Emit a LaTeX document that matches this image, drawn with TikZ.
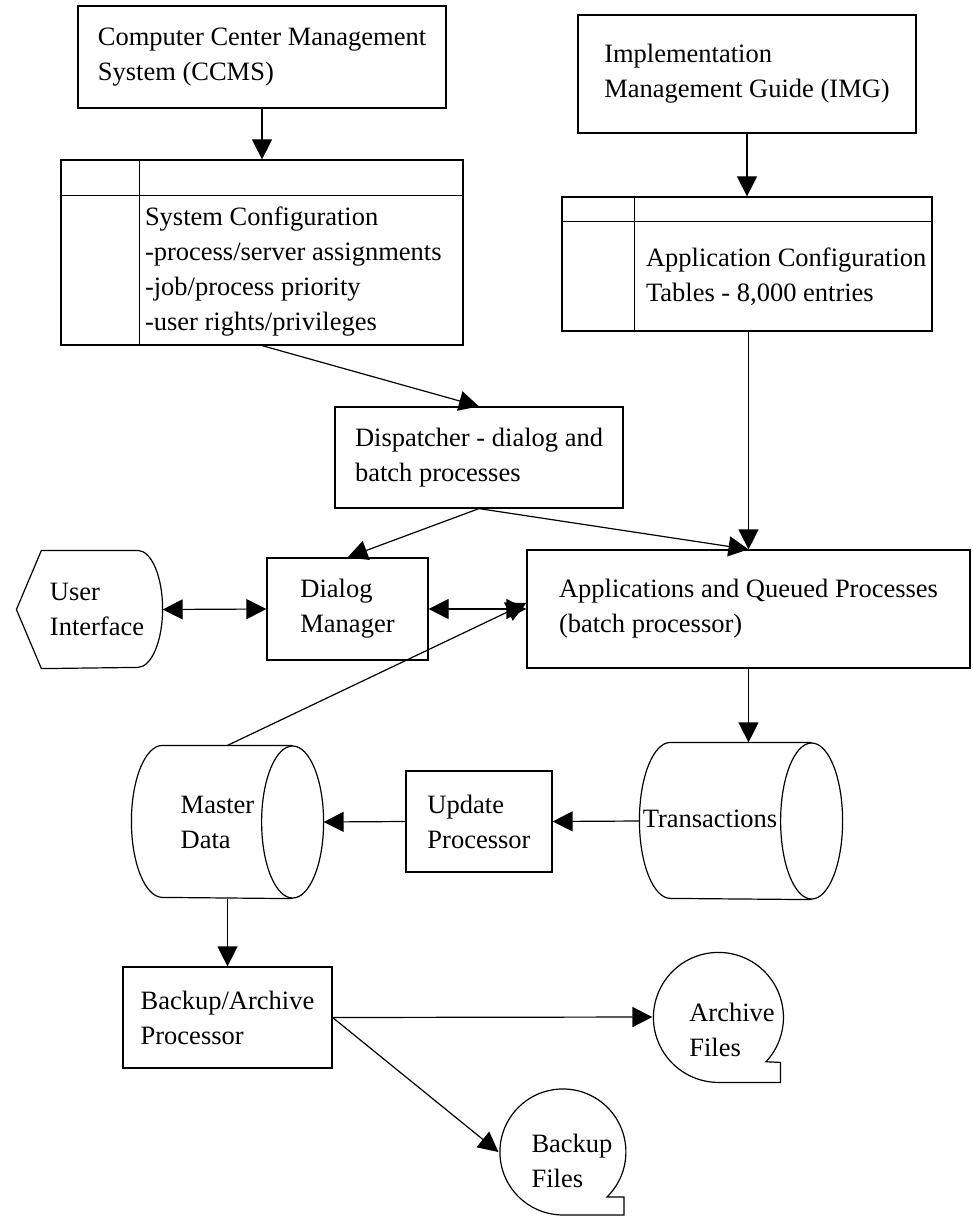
\documentclass[tikz,border=0pt]{standalone}
\usepackage{fontspec}
\setmainfont{Liberation Serif}
\usetikzlibrary{shapes.geometric,arrows.meta,positioning}
\tikzstyle{block} = [draw, rectangle, align=left, inner sep=0pt]
\tikzstyle{tablebox} = [draw, rectangle, inner sep=0pt]
\tikzstyle{store} = [rectangle, inner sep=0pt]
\tikzstyle{tapeshape} = [circle, inner sep=0pt]
\tikzstyle{celltext} = [align=left, anchor=west, inner sep=0pt]
\tikzstyle{flowline} = [-{Triangle[length=10pt,width=10pt]}]
\tikzstyle{dualline} = [{Triangle[length=10pt,width=10pt]}-{Triangle[length=10pt,width=10pt]}]
% outline of a lying drum: node name, x radius, y radius
\newcommand{\drawdrum}[3]{%
    \draw ([xshift=-#2]#1.north east) -- ([xshift=#2]#1.north west)
        arc [start angle=90, end angle=270, x radius=#2, y radius=#3]
        -- ([xshift=-#2]#1.south east);
    \draw ([xshift=-#2]#1.east) ellipse [x radius=#2, y radius=#3];}

\begin{document}
\begin{tikzpicture}[x=0.5pt, y=0.5pt, line width=0.6pt,
    font=\fontsize{13.25pt}{17.5pt}\selectfont]
    \useasboundingbox (0,0) rectangle (973,-1219);
    % % % % % % % % % % % % % % % % % % % % % % %
    % Configuration sources
    % % % % % % % % % % % % % % % % % % % % % % %
    % CCMS
    \node [block, minimum width=184pt, minimum height=51pt] (ccms) at (262,-57)
        {Computer Center Management\\System (CCMS)};
    % System configuration table
    \node [tablebox, below of=ccms, node distance=97.75pt,
        minimum width=201pt, minimum height=92.5pt] (sysconf) {};
    \draw ([yshift=-18pt]sysconf.north west) -- ([yshift=-18pt]sysconf.north east);
    \draw ([xshift=39.5pt]sysconf.north west) -- ([xshift=39.5pt]sysconf.south west);
    \node [celltext] (systext) at ([xshift=42pt, yshift=37.25pt]sysconf.south west)
        {System Configuration\\-process/server assignments\\-job/process priority\\-user rights/privileges};

    % IMG
    \node [block, minimum width=169pt, minimum height=59pt] (img) at (747,-74)
        {Implementation\\Management Guide (IMG)};
    % Application configuration table
    \node [tablebox, below of=img, node distance=95pt,
        minimum width=185pt, minimum height=67pt] (appconf) {};
    \draw ([yshift=-12.5pt]appconf.north west) -- ([yshift=-12.5pt]appconf.north east);
    \draw ([xshift=36.5pt]appconf.north west) -- ([xshift=36.5pt]appconf.south west);
    \node [celltext] (apptext) at ([xshift=42pt, yshift=27.25pt]appconf.south west)
        {Application Configuration\\Tables - 8,000 entries};

    % % % % % % % % % % % % % % % % % % % % % % %
    % Processing
    % % % % % % % % % % % % % % % % % % % % % % %
    % Dispatcher
    \node [block, minimum width=144pt, minimum height=50.5pt] (disp) at (479,-457.5)
        {Dispatcher - dialog and\\batch processes};
    % Dialog manager
    \node [block, minimum width=80.5pt, minimum height=51pt] (dialog) at (347.5,-609)
        {Dialog\\Manager};
    % User interface (display shape)
    \node [align=left, minimum width=65pt, minimum height=58.5pt, inner sep=0pt] (ui) at (97,-609.5)
        {User\\Interface};
    \draw ([xshift=-7.5pt]ui.west) -- ([xshift=5pt]ui.north west)
        -- ([xshift=-12.5pt]ui.north east)
        arc [start angle=90, end angle=-90, x radius=12.5pt, y radius=29.25pt]
        -- ([xshift=5pt]ui.south west) -- cycle;
    % Applications
    \node [block, right of=dialog, node distance=200.5pt,
        minimum width=221.5pt, minimum height=59pt] (app)
        {Applications and Queued Processes\\(batch processor)};

    % % % % % % % % % % % % % % % % % % % % % % %
    % Data
    % % % % % % % % % % % % % % % % % % % % % % %
    \node [store, minimum width=95.5pt, minimum height=76pt] (master) at (227.5,-822) {};
    \drawdrum{master}{15.5pt}{38pt}
    \node [align=left] (mastertext) at ([shift={(-10,0)}]master) {Master\\Data};
    \node [block, minimum width=73pt, minimum height=50.5pt] (update) at (479,-821.5)
        {Update\\Processor};
    \node [store, minimum width=101pt, minimum height=78pt] (trans) at (741,-821) {};
    \drawdrum{trans}{15.5pt}{39pt}
    \node (transtext) at ([shift={(-31,2)}]trans) {Transactions};

    % Backup section
    \node [block, below of=master, node distance=97.75pt,
        minimum width=104.5pt, minimum height=50.5pt] (backupproc)
        {Backup/Archive\\Processor};
    \node [tapeshape, minimum size=65pt] (archive) at (718,-1017) {};
    \draw (archive.-43) arc [start angle=-43, end angle=270, radius=32.5pt]
        -- ++(62,0) -- ++(0,20) -- cycle;
    \node [align=left] (archivetext) at ([shift={(14,-13)}]archive) {Archive\\Files};
    \node [tapeshape, minimum size=63pt] (backupf) at (562,-1152) {};
    \draw (backupf.-45.6) arc [start angle=-45.6, end angle=270, radius=31.5pt]
        -- ++(61,0) -- ++(0,18) -- cycle;
    \node [align=left] (backuptext) at ([shift={(10,-9)}]backupf) {Backup\\Files};

    % Connections
    \draw [flowline] (ccms.south) -- (sysconf.north);
    \draw [flowline] (img.south) -- (appconf.north);
    \draw [flowline] (sysconf.south) -- (disp.north);
    \draw [flowline] (app.north |- appconf.south) -- (app.north);
    \draw [flowline] (disp.south) -- (dialog.north);
    \draw [flowline] (disp.south) -- (app.north);
    \draw [dualline] (ui.east) -- (dialog.west);
    \draw [dualline] (dialog.east) -- (app.west);
    \draw [flowline] (master.north) -- ([yshift=3pt]app.west);
    \draw [flowline] (app.south) -- (app.south |- trans.north);
    \draw [flowline] (trans.west) -- (update.east);
    \draw [flowline] (update.west) -- (master.east);
    \draw [flowline] (master.south) -- (backupproc.north);
    \draw [flowline] (backupproc.east) -- (archive.west);
    \draw [flowline] (backupproc.east) -- (backupf.west);
\end{tikzpicture}
\end{document}
